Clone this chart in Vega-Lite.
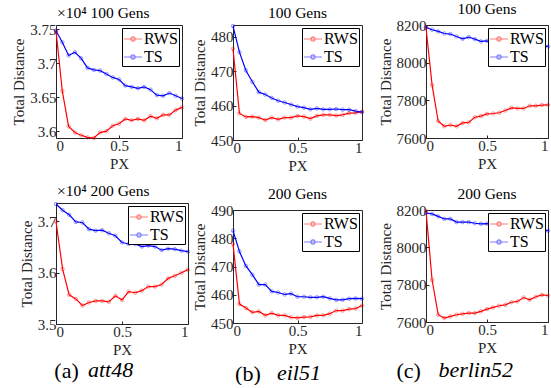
{
  "$schema": "https://vega.github.io/schema/vega-lite/v6.json",
  "padding": {"left": 11, "top": 1, "right": 0, "bottom": 0},
  "background": "white",
  "config": {
    "font": "Liberation Serif",
    "view": {"stroke": "#262626", "strokeWidth": 1},
    "axis": {"labelFont": "Liberation Serif", "labelFontSize": 15, "titleFont": "Liberation Serif", "titleFontSize": 15, "titleFontWeight": "normal", "labelColor": "#262626", "titleColor": "#262626", "domain": false, "grid": false, "tickColor": "#262626", "tickSize": -3, "labelPadding": 3, "titlePadding": 3, "format": "~g"},
    "title": {"font": "Liberation Serif", "fontSize": 15.5, "fontWeight": "normal", "color": "#000000", "offset": 1},
    "legend": {"orient": "top-right", "offset": 3, "padding": 1, "rowPadding": 0, "strokeColor": "#000000", "fillColor": "white", "labelFont": "Liberation Serif", "labelFontSize": 16, "labelColor": "#000000", "labelOffset": 1, "title": null, "symbolType": "M-1,0L1,0M0.24,0A0.24,0.24,0,1,1,-0.24,0A0.24,0.24,0,1,1,0.24,0", "symbolSize": 324, "symbolStrokeWidth": 1.2, "symbolFillColor": "transparent"}
  },
  "datasets": {
    "runs": [
      {"s":"att48","g":100,"px":0,"RWS":37476,"TS":37476},
      {"s":"att48","g":100,"px":0.05,"RWS":36590,"TS":37306},
      {"s":"att48","g":100,"px":0.1,"RWS":36070,"TS":37113},
      {"s":"att48","g":100,"px":0.15,"RWS":35980,"TS":37160},
      {"s":"att48","g":100,"px":0.2,"RWS":35940,"TS":37070},
      {"s":"att48","g":100,"px":0.25,"RWS":35910,"TS":36930},
      {"s":"att48","g":100,"px":0.3,"RWS":35900,"TS":36900},
      {"s":"att48","g":100,"px":0.35,"RWS":35980,"TS":36890},
      {"s":"att48","g":100,"px":0.4,"RWS":36000,"TS":36840},
      {"s":"att48","g":100,"px":0.45,"RWS":36080,"TS":36790},
      {"s":"att48","g":100,"px":0.5,"RWS":36110,"TS":36760},
      {"s":"att48","g":100,"px":0.55,"RWS":36180,"TS":36670},
      {"s":"att48","g":100,"px":0.6,"RWS":36160,"TS":36650},
      {"s":"att48","g":100,"px":0.65,"RWS":36180,"TS":36630},
      {"s":"att48","g":100,"px":0.7,"RWS":36160,"TS":36650},
      {"s":"att48","g":100,"px":0.75,"RWS":36220,"TS":36610},
      {"s":"att48","g":100,"px":0.8,"RWS":36190,"TS":36530},
      {"s":"att48","g":100,"px":0.85,"RWS":36240,"TS":36520},
      {"s":"att48","g":100,"px":0.9,"RWS":36240,"TS":36560},
      {"s":"att48","g":100,"px":0.95,"RWS":36310,"TS":36520},
      {"s":"att48","g":100,"px":1,"RWS":36350,"TS":36480},
      {"s":"eil51","g":100,"px":0,"RWS":476.5,"TS":483.1},
      {"s":"eil51","g":100,"px":0.05,"RWS":457.7,"TS":475.5},
      {"s":"eil51","g":100,"px":0.1,"RWS":456.7,"TS":470.2},
      {"s":"eil51","g":100,"px":0.15,"RWS":456.8,"TS":466.9},
      {"s":"eil51","g":100,"px":0.2,"RWS":456.5,"TS":463.9},
      {"s":"eil51","g":100,"px":0.25,"RWS":455.8,"TS":463.2},
      {"s":"eil51","g":100,"px":0.3,"RWS":456.5,"TS":462.2},
      {"s":"eil51","g":100,"px":0.35,"RWS":456.0,"TS":461.4},
      {"s":"eil51","g":100,"px":0.4,"RWS":456.5,"TS":460.9},
      {"s":"eil51","g":100,"px":0.45,"RWS":456.5,"TS":460.3},
      {"s":"eil51","g":100,"px":0.5,"RWS":457.0,"TS":459.7},
      {"s":"eil51","g":100,"px":0.55,"RWS":456.8,"TS":459.4},
      {"s":"eil51","g":100,"px":0.6,"RWS":456.2,"TS":458.9},
      {"s":"eil51","g":100,"px":0.65,"RWS":457.0,"TS":459.2},
      {"s":"eil51","g":100,"px":0.7,"RWS":457.3,"TS":458.9},
      {"s":"eil51","g":100,"px":0.75,"RWS":457.3,"TS":458.9},
      {"s":"eil51","g":100,"px":0.8,"RWS":457.1,"TS":459.0},
      {"s":"eil51","g":100,"px":0.85,"RWS":457.3,"TS":458.8},
      {"s":"eil51","g":100,"px":0.9,"RWS":457.8,"TS":458.8},
      {"s":"eil51","g":100,"px":0.95,"RWS":457.9,"TS":458.4},
      {"s":"eil51","g":100,"px":1,"RWS":458.2,"TS":458.1},
      {"s":"berlin52","g":100,"px":0,"RWS":8187,"TS":8188},
      {"s":"berlin52","g":100,"px":0.05,"RWS":7881,"TS":8175},
      {"s":"berlin52","g":100,"px":0.1,"RWS":7689,"TS":8166},
      {"s":"berlin52","g":100,"px":0.15,"RWS":7662,"TS":8155},
      {"s":"berlin52","g":100,"px":0.2,"RWS":7669,"TS":8152},
      {"s":"berlin52","g":100,"px":0.25,"RWS":7662,"TS":8139},
      {"s":"berlin52","g":100,"px":0.3,"RWS":7680,"TS":8127},
      {"s":"berlin52","g":100,"px":0.35,"RWS":7683,"TS":8136},
      {"s":"berlin52","g":100,"px":0.4,"RWS":7710,"TS":8125},
      {"s":"berlin52","g":100,"px":0.45,"RWS":7716,"TS":8113},
      {"s":"berlin52","g":100,"px":0.5,"RWS":7728,"TS":8116},
      {"s":"berlin52","g":100,"px":0.55,"RWS":7730,"TS":8110},
      {"s":"berlin52","g":100,"px":0.6,"RWS":7734,"TS":8108},
      {"s":"berlin52","g":100,"px":0.65,"RWS":7746,"TS":8105},
      {"s":"berlin52","g":100,"px":0.7,"RWS":7760,"TS":8100},
      {"s":"berlin52","g":100,"px":0.75,"RWS":7757,"TS":8098},
      {"s":"berlin52","g":100,"px":0.8,"RWS":7757,"TS":8095},
      {"s":"berlin52","g":100,"px":0.85,"RWS":7771,"TS":8092},
      {"s":"berlin52","g":100,"px":0.9,"RWS":7771,"TS":8090},
      {"s":"berlin52","g":100,"px":0.95,"RWS":7775,"TS":8088},
      {"s":"berlin52","g":100,"px":1,"RWS":7776,"TS":8086},
      {"s":"att48","g":200,"px":0,"RWS":37000,"TS":37340},
      {"s":"att48","g":200,"px":0.05,"RWS":36070,"TS":37220},
      {"s":"att48","g":200,"px":0.1,"RWS":35570,"TS":37130},
      {"s":"att48","g":200,"px":0.15,"RWS":35490,"TS":36990},
      {"s":"att48","g":200,"px":0.2,"RWS":35360,"TS":36980},
      {"s":"att48","g":200,"px":0.25,"RWS":35420,"TS":36850},
      {"s":"att48","g":200,"px":0.3,"RWS":35450,"TS":36820},
      {"s":"att48","g":200,"px":0.35,"RWS":35450,"TS":36830},
      {"s":"att48","g":200,"px":0.4,"RWS":35430,"TS":36770},
      {"s":"att48","g":200,"px":0.45,"RWS":35550,"TS":36720},
      {"s":"att48","g":200,"px":0.5,"RWS":35470,"TS":36590},
      {"s":"att48","g":200,"px":0.55,"RWS":35630,"TS":36560},
      {"s":"att48","g":200,"px":0.6,"RWS":35610,"TS":36560},
      {"s":"att48","g":200,"px":0.65,"RWS":35650,"TS":36510},
      {"s":"att48","g":200,"px":0.7,"RWS":35730,"TS":36530},
      {"s":"att48","g":200,"px":0.75,"RWS":35730,"TS":36510},
      {"s":"att48","g":200,"px":0.8,"RWS":35770,"TS":36440},
      {"s":"att48","g":200,"px":0.85,"RWS":35890,"TS":36470},
      {"s":"att48","g":200,"px":0.9,"RWS":35940,"TS":36460},
      {"s":"att48","g":200,"px":0.95,"RWS":36000,"TS":36430},
      {"s":"att48","g":200,"px":1,"RWS":36060,"TS":36410},
      {"s":"eil51","g":200,"px":0,"RWS":478.0,"TS":482.7},
      {"s":"eil51","g":200,"px":0.05,"RWS":456.7,"TS":475.3},
      {"s":"eil51","g":200,"px":0.1,"RWS":455.3,"TS":470.2},
      {"s":"eil51","g":200,"px":0.15,"RWS":453.8,"TS":467.1},
      {"s":"eil51","g":200,"px":0.2,"RWS":454.1,"TS":463.6},
      {"s":"eil51","g":200,"px":0.25,"RWS":452.7,"TS":463.6},
      {"s":"eil51","g":200,"px":0.3,"RWS":453.5,"TS":461.2},
      {"s":"eil51","g":200,"px":0.35,"RWS":452.7,"TS":460.8},
      {"s":"eil51","g":200,"px":0.4,"RWS":452.7,"TS":460.1},
      {"s":"eil51","g":200,"px":0.45,"RWS":452.0,"TS":460.4},
      {"s":"eil51","g":200,"px":0.5,"RWS":451.8,"TS":459.3},
      {"s":"eil51","g":200,"px":0.55,"RWS":452.1,"TS":459.3},
      {"s":"eil51","g":200,"px":0.6,"RWS":452.2,"TS":459.1},
      {"s":"eil51","g":200,"px":0.65,"RWS":452.7,"TS":459.1},
      {"s":"eil51","g":200,"px":0.7,"RWS":452.7,"TS":459.3},
      {"s":"eil51","g":200,"px":0.75,"RWS":453.3,"TS":458.7},
      {"s":"eil51","g":200,"px":0.8,"RWS":454.4,"TS":458.2},
      {"s":"eil51","g":200,"px":0.85,"RWS":454.4,"TS":458.2},
      {"s":"eil51","g":200,"px":0.9,"RWS":454.9,"TS":458.6},
      {"s":"eil51","g":200,"px":0.95,"RWS":455.1,"TS":458.7},
      {"s":"eil51","g":200,"px":1,"RWS":456.2,"TS":458.6},
      {"s":"berlin52","g":200,"px":0,"RWS":8195,"TS":8184},
      {"s":"berlin52","g":200,"px":0.05,"RWS":7825,"TS":8179},
      {"s":"berlin52","g":200,"px":0.1,"RWS":7639,"TS":8166},
      {"s":"berlin52","g":200,"px":0.15,"RWS":7621,"TS":8152},
      {"s":"berlin52","g":200,"px":0.2,"RWS":7630,"TS":8152},
      {"s":"berlin52","g":200,"px":0.25,"RWS":7639,"TS":8135},
      {"s":"berlin52","g":200,"px":0.3,"RWS":7644,"TS":8135},
      {"s":"berlin52","g":200,"px":0.35,"RWS":7648,"TS":8135},
      {"s":"berlin52","g":200,"px":0.4,"RWS":7648,"TS":8129},
      {"s":"berlin52","g":200,"px":0.45,"RWS":7657,"TS":8126},
      {"s":"berlin52","g":200,"px":0.5,"RWS":7669,"TS":8127},
      {"s":"berlin52","g":200,"px":0.55,"RWS":7678,"TS":8125},
      {"s":"berlin52","g":200,"px":0.6,"RWS":7687,"TS":8120},
      {"s":"berlin52","g":200,"px":0.65,"RWS":7692,"TS":8118},
      {"s":"berlin52","g":200,"px":0.7,"RWS":7706,"TS":8115},
      {"s":"berlin52","g":200,"px":0.75,"RWS":7710,"TS":8112},
      {"s":"berlin52","g":200,"px":0.8,"RWS":7731,"TS":8108},
      {"s":"berlin52","g":200,"px":0.85,"RWS":7719,"TS":8104},
      {"s":"berlin52","g":200,"px":0.9,"RWS":7735,"TS":8100},
      {"s":"berlin52","g":200,"px":0.95,"RWS":7745,"TS":8095},
      {"s":"berlin52","g":200,"px":1,"RWS":7742,"TS":8089}
    ]
  },
  "data": {"name": "runs"},
  "transform": [{"fold": ["RWS", "TS"], "as": ["method", "dist"]}],
  "spacing": 0,
  "resolve": {"scale": {"color": "independent"}, "legend": {"color": "independent"}},
  "hconcat": [
    {
      "title": {"text": "att48", "orient": "bottom", "anchor": "middle", "fontStyle": "italic", "fontSize": 22, "dx": 9, "offset": -22},
      "resolve": {"scale": {"color": "independent"}, "legend": {"color": "independent"}},
      "vconcat": [{
        "title": {"text": "(a)", "orient": "bottom", "anchor": "middle", "fontSize": 22, "dx": -35, "offset": 3},
        "columns": 1, "align": "none", "spacing": 11,
        "resolve": {"scale": {"color": "independent"}, "legend": {"color": "independent"}},
        "concat": [
          {
            "width": 126, "height": 113,
            "title": {"text": "×10⁴ 100 Gens", "anchor": "start", "frame": "group", "dx": 1},
            "transform": [{"filter": "datum.s == 'att48' && datum.g == 100"}],
            "encoding": {
              "x": {"field": "px", "type": "quantitative", "scale": {"domain": [0, 1], "nice": false}, "axis": {"values": [0, 0.5, 1], "title": "PX"}},
              "y": {"field": "dist", "type": "quantitative", "scale": {"domain": [35900, 37560], "nice": false, "zero": false}, "axis": {"values": [36000, 36500, 37000, 37500], "labelExpr": "toString(datum.value / 10000)", "title": "Total Distance"}},
              "color": {"field": "method", "type": "nominal", "scale": {"domain": ["RWS", "TS"], "range": ["#ff0000", "#0000ff"]}}
            },
            "layer": [
              {"mark": {"type": "line", "strokeWidth": 1.2}},
              {"mark": {"type": "point", "size": 12, "filled": false, "opacity": 0.5, "strokeWidth": 0.8}}
            ]
          },
          {
            "width": 132, "height": 121,
            "title": {"text": "×10⁴ 200 Gens", "anchor": "start", "frame": "group", "dx": 1},
            "transform": [{"filter": "datum.s == 'att48' && datum.g == 200"}],
            "encoding": {
              "x": {"field": "px", "type": "quantitative", "scale": {"domain": [0, 1], "nice": false}, "axis": {"values": [0, 0.5, 1], "title": "PX"}},
              "y": {"field": "dist", "type": "quantitative", "scale": {"domain": [35000, 37360], "nice": false, "zero": false}, "axis": {"values": [35000, 36000, 37000], "labelExpr": "toString(datum.value / 10000)", "title": "Total Distance"}},
              "color": {"field": "method", "type": "nominal", "scale": {"domain": ["RWS", "TS"], "range": ["#ff0000", "#0000ff"]}}
            },
            "layer": [
              {"mark": {"type": "line", "strokeWidth": 1.2}},
              {"mark": {"type": "point", "size": 12, "filled": false, "opacity": 0.5, "strokeWidth": 0.8}}
            ]
          }
        ]
      }]
    },
    {
      "spacing": 11,
      "resolve": {"scale": {"color": "independent"}, "legend": {"color": "independent"}},
      "hconcat": [
        {
          "title": {"text": "eil51", "orient": "bottom", "anchor": "middle", "fontStyle": "italic", "fontSize": 22, "dx": 20, "offset": -22},
          "resolve": {"scale": {"color": "independent"}, "legend": {"color": "independent"}},
          "vconcat": [{
            "title": {"text": "(b)", "orient": "bottom", "anchor": "middle", "fontSize": 22, "dx": -31, "offset": 7},
            "columns": 1, "align": "none", "spacing": 12,
            "resolve": {"scale": {"color": "independent"}, "legend": {"color": "independent"}},
            "concat": [
              {
                "width": 129, "height": 115,
                "title": {"text": "100 Gens"},
                "transform": [{"filter": "datum.s == 'eil51' && datum.g == 100"}],
                "encoding": {
                  "x": {"field": "px", "type": "quantitative", "scale": {"domain": [0, 1], "nice": false}, "axis": {"values": [0, 0.5, 1], "title": "PX"}},
                  "y": {"field": "dist", "type": "quantitative", "scale": {"domain": [450, 483.4], "nice": false, "zero": false}, "axis": {"values": [450, 460, 470, 480], "format": "d", "title": "Total Distance"}},
                  "color": {"field": "method", "type": "nominal", "scale": {"domain": ["RWS", "TS"], "range": ["#ff0000", "#0000ff"]}}
                },
                "layer": [
                  {"mark": {"type": "line", "strokeWidth": 1.2}},
                  {"mark": {"type": "point", "size": 12, "filled": false, "opacity": 0.5, "strokeWidth": 0.8}}
                ]
              },
              {
                "width": 129, "height": 113,
                "title": {"text": "200 Gens"},
                "transform": [{"filter": "datum.s == 'eil51' && datum.g == 200"}],
                "encoding": {
                  "x": {"field": "px", "type": "quantitative", "scale": {"domain": [0, 1], "nice": false}, "axis": {"values": [0, 0.5, 1], "title": "PX"}},
                  "y": {"field": "dist", "type": "quantitative", "scale": {"domain": [450, 490], "nice": false, "zero": false}, "axis": {"values": [450, 460, 470, 480, 490], "format": "d", "title": "Total Distance"}},
                  "color": {"field": "method", "type": "nominal", "scale": {"domain": ["RWS", "TS"], "range": ["#ff0000", "#0000ff"]}}
                },
                "layer": [
                  {"mark": {"type": "line", "strokeWidth": 1.2}},
                  {"mark": {"type": "point", "size": 12, "filled": false, "opacity": 0.5, "strokeWidth": 0.8}}
                ]
              }
            ]
          }]
        },
        {
          "title": {"text": "berlin52", "orient": "bottom", "anchor": "middle", "fontStyle": "italic", "fontSize": 22, "dx": 11, "offset": -22},
          "resolve": {"scale": {"color": "independent"}, "legend": {"color": "independent"}},
          "vconcat": [{
            "title": {"text": "(c)", "orient": "bottom", "anchor": "middle", "fontSize": 22, "dx": -56, "offset": 5},
            "columns": 1, "align": "none", "spacing": 14,
            "resolve": {"scale": {"color": "independent"}, "legend": {"color": "independent"}},
            "concat": [
              {
                "width": 122, "height": 113,
                "title": {"text": "100 Gens"},
                "transform": [{"filter": "datum.s == 'berlin52' && datum.g == 100"}],
                "encoding": {
                  "x": {"field": "px", "type": "quantitative", "scale": {"domain": [0, 1], "nice": false}, "axis": {"values": [0, 0.5, 1], "title": "PX"}},
                  "y": {"field": "dist", "type": "quantitative", "scale": {"domain": [7600, 8200], "nice": false, "zero": false}, "axis": {"values": [7600, 7800, 8000, 8200], "format": "d", "title": "Total Distance"}},
                  "color": {"field": "method", "type": "nominal", "scale": {"domain": ["RWS", "TS"], "range": ["#ff0000", "#0000ff"]}}
                },
                "layer": [
                  {"mark": {"type": "line", "strokeWidth": 1.2}},
                  {"mark": {"type": "point", "size": 12, "filled": false, "opacity": 0.5, "strokeWidth": 0.8}}
                ]
              },
              {
                "width": 122, "height": 112,
                "title": {"text": "200 Gens"},
                "transform": [{"filter": "datum.s == 'berlin52' && datum.g == 200"}],
                "encoding": {
                  "x": {"field": "px", "type": "quantitative", "scale": {"domain": [0, 1], "nice": false}, "axis": {"values": [0, 0.5, 1], "title": "PX"}},
                  "y": {"field": "dist", "type": "quantitative", "scale": {"domain": [7600, 8200], "nice": false, "zero": false}, "axis": {"values": [7600, 7800, 8000, 8200], "format": "d", "title": "Total Distance"}},
                  "color": {"field": "method", "type": "nominal", "scale": {"domain": ["RWS", "TS"], "range": ["#ff0000", "#0000ff"]}}
                },
                "layer": [
                  {"mark": {"type": "line", "strokeWidth": 1.2}},
                  {"mark": {"type": "point", "size": 12, "filled": false, "opacity": 0.5, "strokeWidth": 0.8}}
                ]
              }
            ]
          }]
        }
      ]
    }
  ]
}
